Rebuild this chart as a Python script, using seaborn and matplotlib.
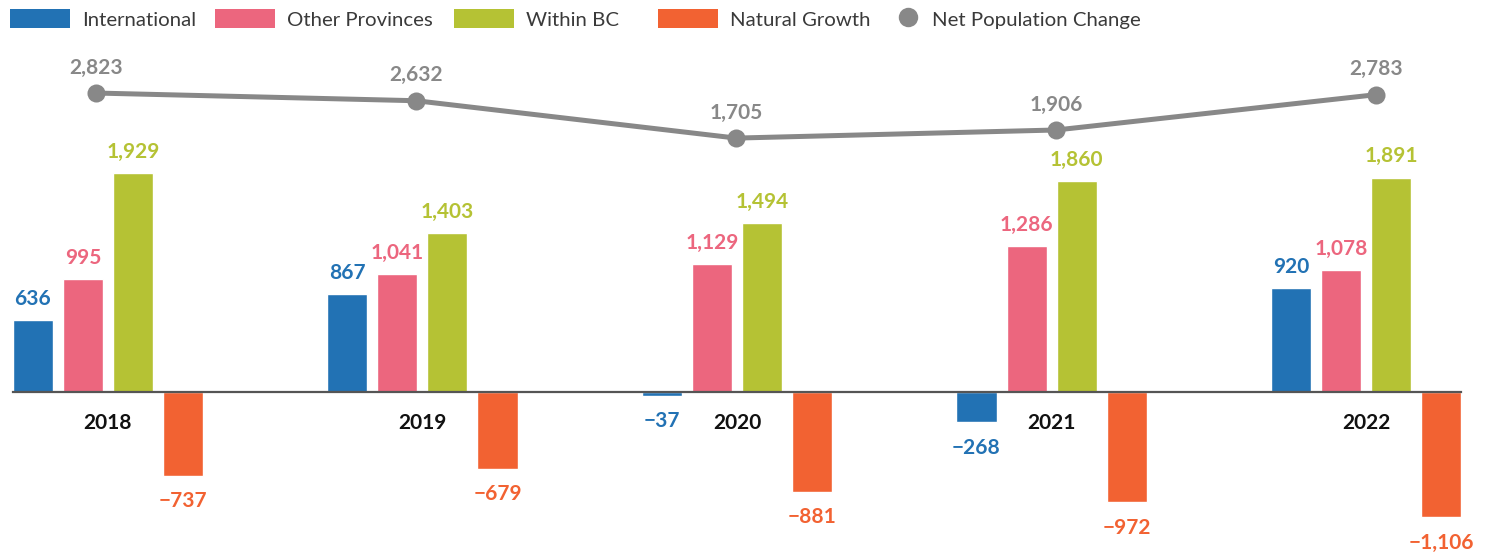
import numpy as np
import pandas as pd
import matplotlib
matplotlib.use("Agg")
import matplotlib.pyplot as plt
import seaborn as sns
from matplotlib.patches import Patch
from matplotlib.lines import Line2D

years = ["2018", "2019", "2020", "2021", "2022"]
components = ["International", "Other Provinces", "Within BC", "Natural Growth"]
international = [636, 867, -37, -268, 920]
other_provinces = [995, 1041, 1129, 1286, 1078]
within_bc = [1929, 1403, 1494, 1860, 1891]
natural_growth = [-737, -679, -881, -972, -1106]
net_change = [2823, 2632, 1705, 1906, 2783]

colors = ["#2272b4", "#ec667e", "#b5c234", "#f26232"]
net_color = "#888888"

sns.set_theme(style="white")
plt.rcParams["font.family"] = ["Lato", "DejaVu Sans"]


def fmt(v):
    return f"{v:,}".replace("-", "\u2212")


df = pd.DataFrame({
    "year": np.repeat(years, len(components)),
    "component": components * len(years),
    "value": np.column_stack([international, other_provinces, within_bc, natural_growth]).ravel(),
})

W, H = 1490, 553
fig = plt.figure(figsize=(W / 100, H / 100), dpi=100)
ax = fig.add_axes([13 / W, 13 / H, 1448 / W, 495 / H])

sns.barplot(data=df, x="year", y="value", hue="component", hue_order=components,
            palette=colors, width=0.636, gap=0.2, legend=False, ax=ax,
            saturation=1, errorbar=None)

ax.set_xlim(-0.302, 4.302)
ax.set_ylim(-1305, 3060)
for c, col in zip(ax.containers, colors):
    vals = [int(round(b.get_height())) for b in c]
    # positive labels above the bars, negative ones a little further below
    ax.bar_label(c, labels=[fmt(v) if v >= 0 else "" for v in vals], padding=8,
                 color=col, fontweight="bold", fontsize=15)
    ax.bar_label(c, labels=[fmt(v) if v < 0 else "" for v in vals], padding=11,
                 color=col, fontweight="bold", fontsize=15)

for s in ["top", "right", "left"]:
    ax.spines[s].set_visible(False)
ax.spines["bottom"].set_position(("data", 0))
ax.spines["bottom"].set_color("#555555")
ax.spines["bottom"].set_linewidth(1.6)
ax.set_yticks([])
ax.set_xlabel("")
ax.set_ylabel("")
ax.tick_params(axis="x", length=0, pad=15, labelsize=15, labelcolor="#111111")
for t in ax.get_xticklabels():
    t.set_fontweight("bold")

# net change line on its own overlay axes
ax2 = fig.add_axes(ax.get_position(), frameon=False)
pos = np.arange(len(years))
sns.lineplot(x=pos, y=net_change, color=net_color, linewidth=3.6, marker="o",
             markersize=13, markeredgewidth=0, ax=ax2)
ax2.set_xlim(-0.26, 4.265)
ax2.set_ylim(-8268, 4015)
ax2.axis("off")
for x, v in zip(pos, net_change):
    ax2.annotate(fmt(v), (x, v), xytext=(0, 11), textcoords="offset points",
                 ha="center", va="bottom", color=net_color, fontweight="bold",
                 fontsize=15)

# legend: one entry per legend so the spacing matches the original
handles = [Patch(facecolor=c, edgecolor="none", label=l) for c, l in zip(colors, components)]
handles.append(Line2D([], [], color=net_color, marker="o", linestyle="none",
                      markersize=14, markeredgewidth=0, label="Net Population Change"))
starts = [10, 215, 454, 658, 896]
lengths = [60, 60, 60, 60, 24]
fs = 14.7
for h, x0, hl in zip(handles, starts, lengths):
    fig.legend(handles=[h], loc="upper left", bbox_to_anchor=(x0 / W, 1 - 9 / H),
               frameon=False, fontsize=fs, handlelength=hl * 0.72 / fs,
               handleheight=22 * 0.72 / fs, handletextpad=12 * 0.72 / fs,
               labelcolor="#3a3a3a", borderpad=0, borderaxespad=0)

fig.savefig("out.png", dpi=100)
